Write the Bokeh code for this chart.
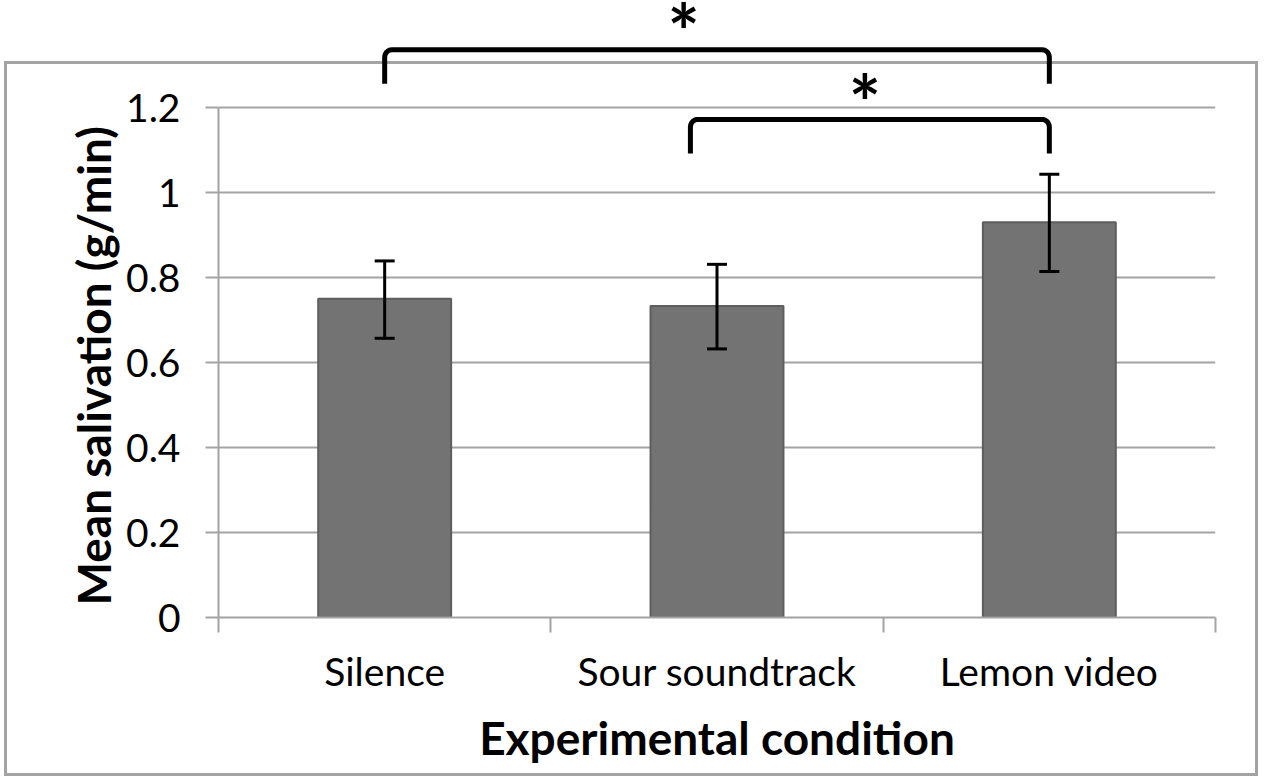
import numpy as np
from bokeh.plotting import figure
from bokeh.models import (Range1d, FixedTicker, Whisker, TeeHead, ColumnDataSource,
                          NumeralTickFormatter, Title)
from bokeh.core.properties import value
from bokeh.embed import file_html
from bokeh.resources import INLINE

# ---- data ----
categories = ["Silence", "Sour soundtrack", "Lemon video"]
means = [0.75, 0.733, 0.93]
err_low = [0.657, 0.632, 0.814]
err_high = [0.839, 0.831, 1.043]
y_ticks = [0, 0.2, 0.4, 0.6, 0.8, 1, 1.2]
y_title = "Mean salivation (g/min)"
x_title = "Experimental condition"

# significance brackets (data units)
bracket_x0 = [0.5, 1.42]
bracket_x1 = [2.5, 2.5]
bracket_top = [1.336, 1.172]
bracket_bottom = [1.256, 1.092]
star_x = [1.40, 1.945]
star_y = [1.407, 1.240]
star_text = ["*", "*"]

GRAY = "#a3a3a3"
FONT = "Lato"

x_centers = [i + 0.5 for i in range(len(categories))]

p = figure(width=1267, height=778, x_range=Range1d(0, 3), y_range=Range1d(0, 1.4518),
           output_backend="svg", toolbar_location=None,
           min_border_left=218, min_border_right=52, min_border_top=0, min_border_bottom=161)
p.outline_line_color = None
p.background_fill_color = None
p.border_fill_color = None
# outer chart border (page decoration behind the transparent canvas)
g = "linear-gradient(%s,%s)" % (GRAY, GRAY)
p.styles = {
    "background-color": "white",
    "background-image": ",".join([g] * 4),
    "background-size": "1254px 3px, 1254px 3px, 3px 714px, 3px 714px",
    "background-position": "4px 61px, 4px 773px, 4px 61px, 1255px 61px",
    "background-repeat": "no-repeat",
}

p.xgrid.visible = False
p.ygrid.ticker = FixedTicker(ticks=y_ticks)
p.ygrid.grid_line_color = GRAY
p.ygrid.grid_line_width = 2

# y axis
ya = p.yaxis[0]
ya.ticker = FixedTicker(ticks=y_ticks)
ya.formatter = NumeralTickFormatter(format="0.[0]")
ya.bounds = (0, 1.2)
ya.axis_line_color = GRAY
ya.axis_line_width = 2
ya.major_tick_line_color = GRAY
ya.major_tick_line_width = 2
ya.major_tick_out = 13
ya.major_tick_in = 0
ya.minor_tick_line_color = None
ya.major_label_text_font = FONT
ya.major_label_text_font_size = "39px"
ya.major_label_text_color = "black"
ya.major_label_standoff = 25

# y axis title, starting just above the bottom of the value span
p.add_layout(Title(text=y_title, align="left", offset=12, standoff=6,
                   text_font=FONT, text_font_style="bold", text_font_size="46px",
                   text_color="black"), "left")

# x axis
xa = p.xaxis[0]
xa.ticker = FixedTicker(ticks=x_centers, minor_ticks=list(range(len(categories) + 1)))
xa.major_label_overrides = {c: n for c, n in zip(x_centers, categories)}
xa.axis_line_color = GRAY
xa.axis_line_width = 2
xa.major_tick_line_color = None
xa.major_tick_out = 0
xa.major_tick_in = 0
xa.minor_tick_line_color = GRAY
xa.minor_tick_line_width = 2
xa.minor_tick_out = 15
xa.minor_tick_in = 0
xa.major_label_text_font = FONT
xa.major_label_text_font_size = "39px"
xa.major_label_text_color = "black"
xa.major_label_standoff = 15
xa.axis_label = x_title
xa.axis_label_text_font = FONT
xa.axis_label_text_font_style = "bold"
xa.axis_label_text_font_size = "46px"
xa.axis_label_text_color = "black"
xa.axis_label_standoff = 13

# bars
src = ColumnDataSource(dict(x=x_centers, top=means, lower=err_low, upper=err_high))
p.vbar(x="x", top="top", width=0.4, bottom=0, source=src,
       fill_color="#737373", line_color="#5e5e5e", line_width=2)

# error bars
p.add_layout(Whisker(source=src, base="x", lower="lower", upper="upper",
                     line_color="black", line_width=3, level="annotation",
                     upper_head=TeeHead(size=20, line_color="black", line_width=3),
                     lower_head=TeeHead(size=20, line_color="black", line_width=3)))

# brackets with rounded corners
rx, ry = 0.022, 0.018
t = np.linspace(0, np.pi / 2, 8)
xs, ys = [], []
for x0, x1, yt, yb in zip(bracket_x0, bracket_x1, bracket_top, bracket_bottom):
    lx = list(x0 + rx - rx * np.cos(t))
    ly = list(yt - ry + ry * np.sin(t))
    rxs = list(x1 - rx + rx * np.sin(t))
    rys = list(yt - ry + ry * np.cos(t))
    xs.append([x0] + lx + rxs + [x1])
    ys.append([yb] + ly + rys + [yb])
p.multi_line(xs=xs, ys=ys, line_color="black", line_width=5,
             line_join="round", line_cap="butt")

p.text(x=star_x, y=star_y, text=star_text, text_font=value(FONT),
       text_font_style="bold", text_font_size="76px", text_align="center",
       text_baseline="middle", y_offset=11, text_color="black")

open("out.html", "w").write(file_html(p, INLINE))
